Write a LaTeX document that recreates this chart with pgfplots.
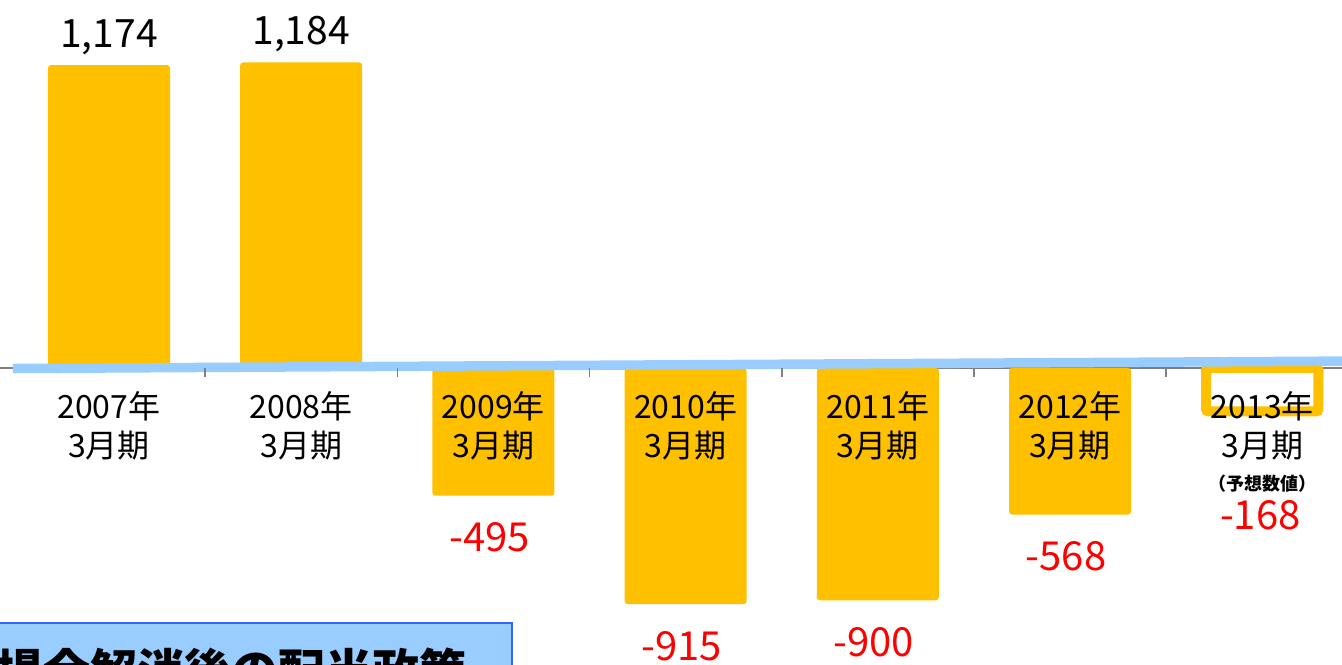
\documentclass[border=0pt]{standalone}
\usepackage{fontspec}
\setmainfont{Noto Sans CJK JP}
\usepackage{pgfplots}
\pgfplotsset{compat=1.18}
\definecolor{barorange}{HTML}{FFC000}
\definecolor{lineblue}{HTML}{99CCFF}
\definecolor{boxblue}{HTML}{3366FF}
\begin{document}
\begin{tikzpicture}
\begin{axis}[
  name=ax,
  scale only axis, width=671pt, height=332pt,
  xmin=-0.567, xmax=6.415, ymin=-1147, ymax=1426,
  axis y line=none,
  axis x line*=middle,
  x axis line style={draw=none},
  axis on top,
  xtick={0,1,2,3,4,5,6},
  xticklabels={{2007年\\3月期},{2008年\\3月期},{2009年\\3月期},{2010年\\3月期},{2011年\\3月期},{2012年\\3月期},{2013年\\3月期\\[-3pt]{\fontsize{9}{11}\selectfont\bfseries （予想数値）}}},
  minor xtick={0.5,1.5,2.5,3.5,4.5,5.5},
  major tick length=0pt, minor tick length=4.5pt, tick align=outside,
  minor x tick style={gray, line width=0.8pt},
  xticklabel style={align=center, font=\fontsize{16}{19.5}\selectfont, anchor=north, inner sep=0pt},
  xticklabel shift=11.5pt,
  ybar, bar width=0.635,
  /pgf/number format/1000 sep={,},
  /pgf/number format/assume math mode=true,
]
\draw[gray, line width=0.6pt] (axis cs:-0.6,0) -- (axis cs:6.5,0);
\draw[fill=lineblue, draw=boxblue, line width=1pt] (axis cs:-0.7,-988) rectangle (axis cs:2.097,-1400);
\node[anchor=base west, inner sep=0pt, font=\fontsize{23.5}{23.5}\selectfont\bfseries] at (axis cs:-0.588,-1240) {場合解消後の配当政策};
\addplot[fill=barorange, draw=none, rounded corners=1.5pt, bar shift=0pt,
  nodes near coords,
  every node near coord/.append style={font=\fontsize{19.5}{19.5}\selectfont, text=black, anchor=base, yshift=9pt}]
  coordinates {(0,1174) (1,1184)};
\addplot[fill=barorange, draw=none, rounded corners=1.5pt, bar shift=0pt,
  nodes near coords,
  every node near coord/.append style={font=\fontsize{20}{20}\selectfont, text=red, anchor=base, yshift=-28pt, xshift=-2pt}]
  coordinates {(2,-495) (3,-915) (4,-900) (5,-568)};
\addplot[fill=white, draw=barorange, line width=5pt, rounded corners=1pt, bar shift=0pt, bar width=0.583,
  nodes near coords,
  every node near coord/.append style={font=\fontsize{20}{20}\selectfont, text=red, anchor=base, yshift=-59pt, xshift=-1pt}]
  coordinates {(6,-168)};
\draw[lineblue, line width=4.75pt] (axis cs:-0.5,-2) -- (axis cs:6.5,27);
\end{axis}
\pgfresetboundingbox
\useasboundingbox (ax.south west) rectangle (ax.north east);
\end{tikzpicture}
\end{document}
